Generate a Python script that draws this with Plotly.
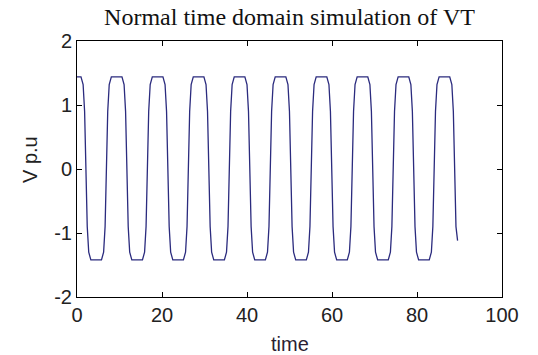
import plotly.graph_objects as go

# Time (s) and voltage (p.u.) vertices
time = [
    0.00, 0.94, 1.44, 1.79, 2.41, 2.76, 3.26,
    5.76, 6.26, 6.61, 7.23, 7.58, 8.08,
    10.58, 11.08, 11.43, 12.05, 12.40, 12.90,
    15.40, 15.90, 16.25, 16.87, 17.22, 17.72,
    20.22, 20.72, 21.07, 21.69, 22.04, 22.54,
    25.04, 25.54, 25.89, 26.51, 26.86, 27.36,
    29.86, 30.36, 30.71, 31.33, 31.68, 32.18,
    34.68, 35.18, 35.53, 36.15, 36.50, 37.00,
    39.50, 40.00, 40.35, 40.97, 41.32, 41.82,
    44.32, 44.82, 45.17, 45.79, 46.14, 46.64,
    49.14, 49.64, 49.99, 50.61, 50.96, 51.46,
    53.96, 54.46, 54.81, 55.43, 55.78, 56.28,
    58.78, 59.28, 59.63, 60.25, 60.60, 61.10,
    63.60, 64.10, 64.45, 65.07, 65.42, 65.92,
    68.42, 68.92, 69.27, 69.89, 70.24, 70.74,
    73.24, 73.74, 74.09, 74.71, 75.06, 75.56,
    78.06, 78.56, 78.91, 79.53, 79.88, 80.38,
    82.88, 83.38, 83.73, 84.35, 84.70, 85.20,
    87.70, 88.20, 88.55, 89.17, 89.55,
]
vt = [
    1.44, 1.44, 1.32, 0.90, -0.90, -1.30, -1.42,
    -1.42, -1.30, -0.90, 0.90, 1.32, 1.44,
    1.44, 1.32, 0.90, -0.90, -1.30, -1.42,
    -1.42, -1.30, -0.90, 0.90, 1.32, 1.44,
    1.44, 1.32, 0.90, -0.90, -1.30, -1.42,
    -1.42, -1.30, -0.90, 0.90, 1.32, 1.44,
    1.44, 1.32, 0.90, -0.90, -1.30, -1.42,
    -1.42, -1.30, -0.90, 0.90, 1.32, 1.44,
    1.44, 1.32, 0.90, -0.90, -1.30, -1.42,
    -1.42, -1.30, -0.90, 0.90, 1.32, 1.44,
    1.44, 1.32, 0.90, -0.90, -1.30, -1.42,
    -1.42, -1.30, -0.90, 0.90, 1.32, 1.44,
    1.44, 1.32, 0.90, -0.90, -1.30, -1.42,
    -1.42, -1.30, -0.90, 0.90, 1.32, 1.44,
    1.44, 1.32, 0.90, -0.90, -1.30, -1.42,
    -1.42, -1.30, -0.90, 0.90, 1.32, 1.44,
    1.44, 1.32, 0.90, -0.90, -1.30, -1.42,
    -1.42, -1.30, -0.90, 0.90, 1.32, 1.44,
    1.44, 1.32, 0.90, -0.90, -1.12,
]

x_ticks = [0, 20, 40, 60, 80, 100]
x_labels = ["0", "20", "40", "60", "80", "100"]
y_ticks = [-2, -1, 0, 1, 2]
y_labels = ["-2", "-1", "0", "1", "2"]

sans = "Liberation Sans, Arial, sans-serif"
serif = "Liberation Serif, Times New Roman, serif"

L, R, T, B = 77, 36, 41, 58
W, H = 538, 355
pw, ph = W - L - R, H - T - B

fig = go.Figure()
fig.add_trace(go.Scatter(
    x=time, y=vt, mode="lines",
    line=dict(color="#2b2b7e", width=1.3),
    showlegend=False, hoverinfo="skip",
))

axis_common = dict(
    showline=True, linecolor="black", linewidth=1, mirror="ticks",
    ticks="inside", ticklen=5, tickcolor="black", tickwidth=1,
    showgrid=False, zeroline=False, automargin=False,
    tickfont=dict(family=sans, size=20, color="#222222"),
)

fig.update_layout(
    width=W, height=H,
    margin=dict(l=L, r=R, t=T, b=B, autoexpand=False),
    paper_bgcolor="white", plot_bgcolor="white",
    title=dict(
        text="Normal time domain simulation of VT",
        font=dict(family=serif, size=24, color="#111111"),
        x=0.5, xref="paper", xanchor="center",
        y=1 - 17 / H, yref="container", yanchor="middle",
    ),
    xaxis=dict(
        range=[0, 100], tickvals=x_ticks, ticktext=x_labels,
        **axis_common,
    ),
    yaxis=dict(
        range=[-2, 2], tickvals=y_ticks, ticktext=y_labels,
        **axis_common,
    ),
    annotations=[
        dict(
            text="V p.u", textangle=-90, showarrow=False,
            xref="paper", yref="paper", x=(30 - L) / pw, y=(H - B - 160) / ph,
            xanchor="center", yanchor="middle",
            font=dict(family=sans, size=20, color="#222222"),
        ),
        dict(
            text="time", showarrow=False,
            xref="paper", yref="paper", x=0.5, y=-(344 - (H - B)) / ph,
            xanchor="center", yanchor="middle",
            font=dict(family=sans, size=20, color="#2a1f33"),
        ),
    ],
)

fig.write_html("out.html")
